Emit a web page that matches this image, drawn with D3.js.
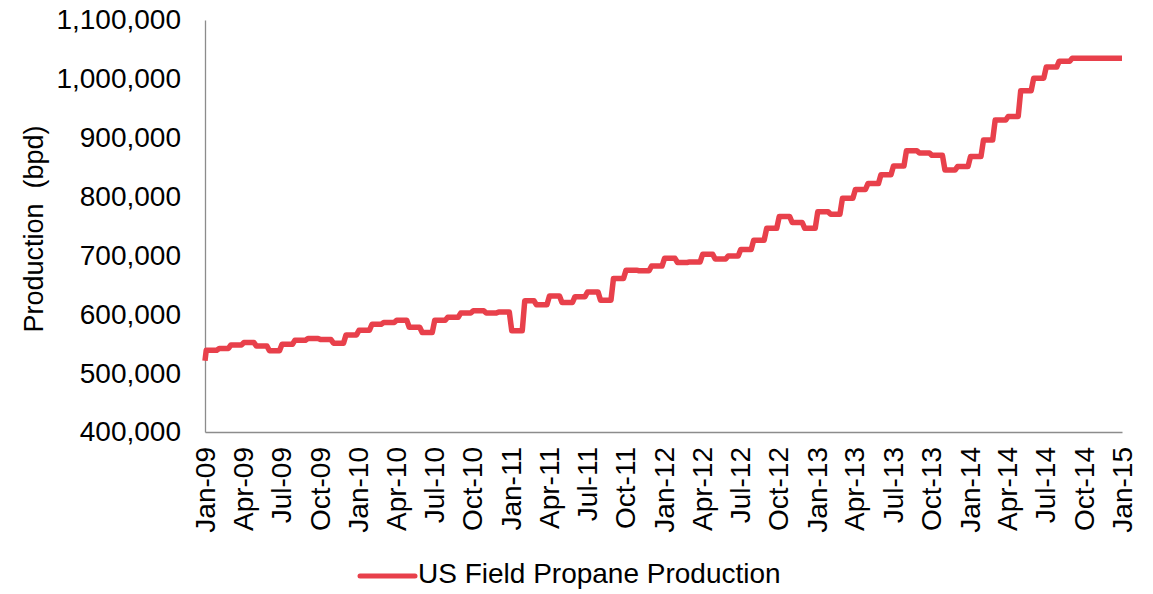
<!DOCTYPE html>
<html>
<head>
<meta charset="utf-8">
<script src="https://cdn.jsdelivr.net/npm/d3@7"></script>
<style>
  body { margin: 0; background: #fff; }
  text { font-family: "Liberation Sans", Arial, sans-serif; fill: #000; }
</style>
</head>
<body>
<div id="chart"></div>
<script>
// US field propane production, monthly values (bpd), Jan-09 .. Jan-15
const seriesName = 'US Field Propane Production';
const firstValue = 521000; // first reading, before the Jan-09 level
const production = [
  539000, 542000, 548000, 552000, 546000, 538000, 549000, 556000, 559000, 557000, 551000, 565000,
  573000, 583000, 586000, 590000, 578000, 569000, 590000, 595000, 602000, 606000, 602000, 604000,
  572000, 623000, 616000, 631000, 620000, 630000, 638000, 624000, 661000, 675000, 674000, 682000,
  695000, 688000, 689000, 702000, 694000, 699000, 710000, 726000, 746000, 766000, 756000, 746000,
  774000, 770000, 797000, 812000, 822000, 837000, 852000, 878000, 874000, 870000, 845000, 851000,
  868000, 896000, 930000, 936000, 980000, 1001000, 1020000, 1030000, 1035000, 1035000, 1035000, 1035000,
  1035000
];
const months = d3.timeMonth.range(new Date(2009, 0, 1), new Date(2015, 1, 1));
const yTicks = [400000, 500000, 600000, 700000, 800000, 900000, 1000000, 1100000];

const width = 1153, height = 594;
const margin = { top: 20, right: 31, bottom: 162, left: 205 };

const svg = d3.select('#chart').append('svg')
  .attr('width', width)
  .attr('height', height);

const x = d3.scaleTime()
  .domain([months[0], months[months.length - 1]])
  .range([margin.left, width - margin.right]);

const y = d3.scaleLinear()
  .domain([400000, 1100000])
  .range([height - margin.bottom, margin.top]);

// axes
const yAxis = svg.append('g')
  .attr('transform', `translate(${margin.left},0)`)
  .call(d3.axisLeft(y).tickValues(yTicks).tickFormat(d3.format(',')).tickSize(0).tickPadding(24));
yAxis.select('.domain').attr('stroke', '#8c8c8c').attr('stroke-width', 1.3);
yAxis.selectAll('text').style('font-size', '28px');

const xAxis = svg.append('g')
  .attr('transform', `translate(0,${height - margin.bottom})`)
  .call(d3.axisBottom(x).ticks(d3.timeMonth.every(3)).tickFormat(d3.timeFormat('%b-%y')).tickSize(0));
xAxis.select('.domain').attr('stroke', '#8c8c8c').attr('stroke-width', 1.3);
xAxis.selectAll('text')
  .style('font-size', '28px')
  .attr('text-anchor', 'end')
  .attr('transform', 'rotate(-90)')
  .attr('x', -15)
  .attr('y', 0)
  .attr('dy', '0.35em');

svg.append('text')
  .attr('transform', `translate(36,${(margin.top + height - margin.bottom) / 2 + 3}) rotate(-90)`)
  .attr('text-anchor', 'middle')
  .attr('dominant-baseline', 'middle')
  .style('font-size', '27px')
  .style('white-space', 'pre')
  .text('Production  (bpd)');

// step-like line: each month held flat, short ramp into the next
const points = [[months[0], firstValue]];
production.forEach((v, i) => {
  const d = months[i];
  if (i < production.length - 1) {
    const next = months[i + 1];
    points.push([d3.timeDay.offset(d, 3), v]);
    points.push([d3.timeDay.offset(next, -3), v]);
  } else {
    points.push([d, v]);
  }
});

const line = d3.line()
  .x(d => x(d[0]))
  .y(d => y(d[1]));

svg.append('path')
  .attr('d', line(points))
  .attr('fill', 'none')
  .attr('stroke', '#e8404b')
  .attr('stroke-width', 5.5)
  .attr('stroke-linejoin', 'round');

// legend
const legend = svg.append('g').attr('transform', 'translate(360,576)');
legend.append('line')
  .attr('x1', 0).attr('x2', 55)
  .attr('stroke', '#e8404b')
  .attr('stroke-width', 5)
  .attr('stroke-linecap', 'round');
legend.append('text')
  .attr('x', 58)
  .attr('dominant-baseline', 'middle')
  .style('font-size', '28px')
  .text(seriesName);
</script>
</body>
</html>
